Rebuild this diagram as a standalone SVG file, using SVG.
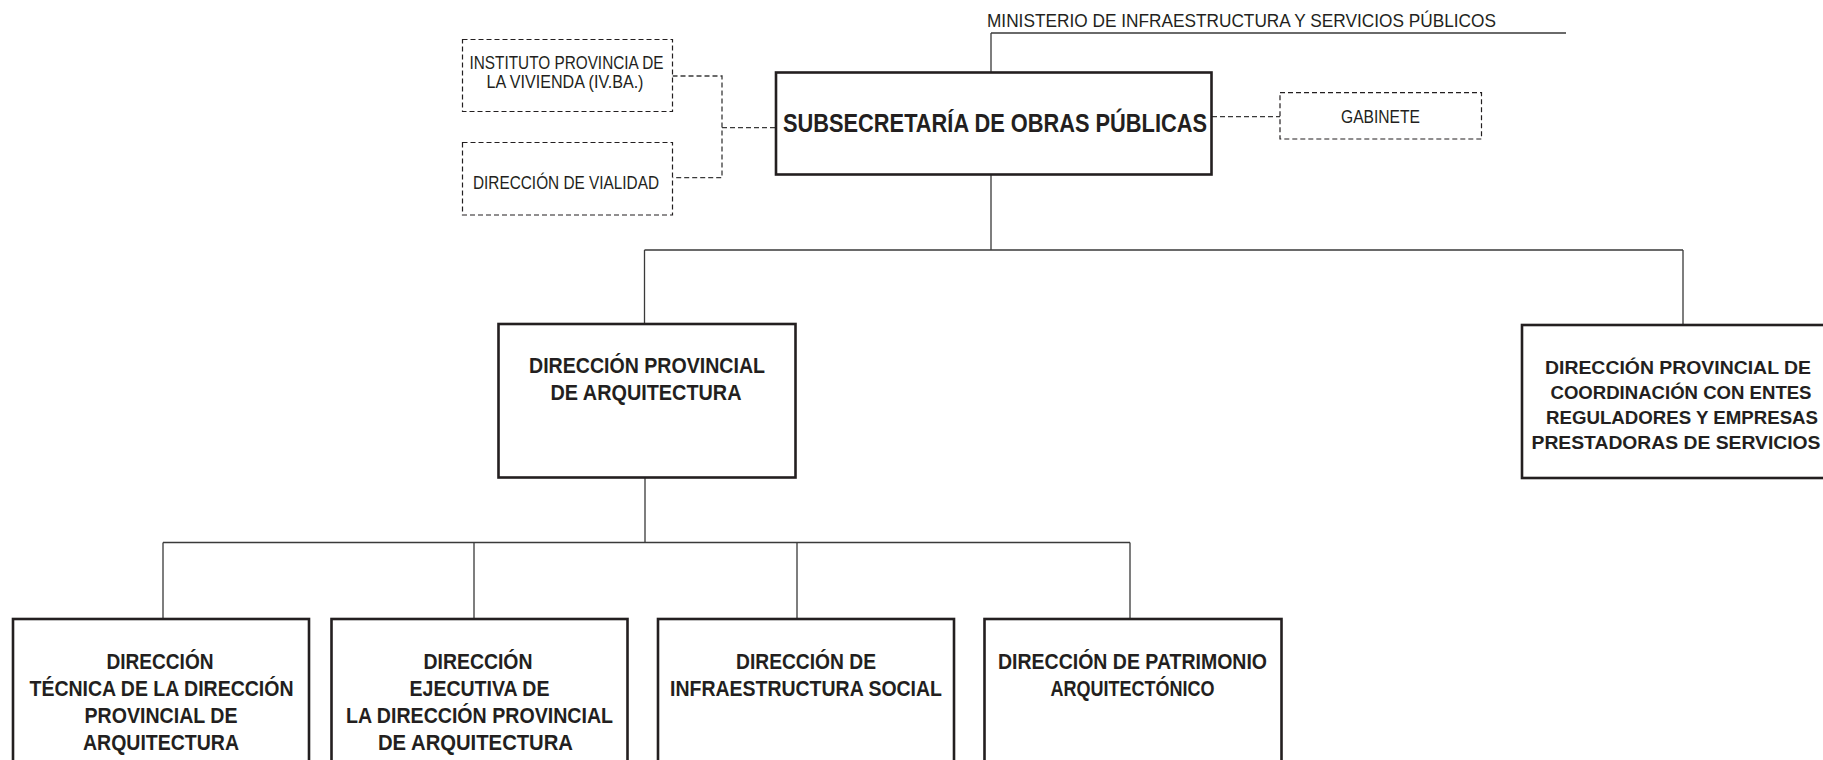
<svg xmlns="http://www.w3.org/2000/svg" width="1823" height="760" viewBox="0 0 1823 760">
<style>
  .box { fill: #ffffff; stroke: #231f20; stroke-width: 2.6; }
  .dbox { fill: #ffffff; stroke: #231f20; stroke-width: 1.2; stroke-dasharray: 5 3; }
  .ln { fill: none; stroke: #3a3a3a; stroke-width: 1.3; }
  .dln { fill: none; stroke: #3a3a3a; stroke-width: 1.3; stroke-dasharray: 5 3; }
  text { font-family: "Liberation Sans", Arial, sans-serif; fill: #231f20; }
  .b { font-weight: bold; text-anchor: middle; }
  .r { font-weight: normal; }
  .c { text-anchor: middle; }
</style>
<rect x="0" y="0" width="1823" height="760" fill="#ffffff"/>

<g id="connectors">
  <path class="ln" d="M991 33 H1566 M991 33 V72"/>
  <path class="ln" d="M991 175 V250 M644.5 250 H1683 M644.5 250 V324 M1683 250 V325"/>
  <path class="ln" d="M645 477 V542.5 M163 542.5 H1130 M163 542.5 V619 M474 542.5 V619 M797 542.5 V619 M1130 542.5 V619"/>
  <path class="dln" d="M672.5 76 H722 V177.7 H672.5 M722 127.7 H775"/>
  <path class="dln" d="M1212 116.7 H1280"/>
</g>

<g id="ministerio">
  <text class="r" x="987" y="27" font-size="18" textLength="509" lengthAdjust="spacingAndGlyphs">MINISTERIO DE INFRAESTRUCTURA Y SERVICIOS PÚBLICOS</text>
</g>

<g id="subsecretaria">
  <rect class="box" x="776" y="72.5" width="435.5" height="102"/>
  <text class="b" x="995" y="132" font-size="25" textLength="424" lengthAdjust="spacingAndGlyphs">SUBSECRETARÍA DE OBRAS PÚBLICAS</text>
</g>

<g id="instituto">
  <rect class="dbox" x="462.5" y="39.5" width="210" height="72"/>
  <text class="r c" x="566.5" y="69" font-size="19" textLength="194" lengthAdjust="spacingAndGlyphs">INSTITUTO PROVINCIA DE</text>
  <text class="r c" x="565" y="88" font-size="19" textLength="157" lengthAdjust="spacingAndGlyphs">LA VIVIENDA (IV.BA.)</text>
</g>

<g id="vialidad">
  <rect class="dbox" x="462.5" y="142.5" width="210" height="72.5"/>
  <text class="r c" x="566" y="189" font-size="19" textLength="186" lengthAdjust="spacingAndGlyphs">DIRECCIÓN DE VIALIDAD</text>
</g>

<g id="gabinete">
  <rect class="dbox" x="1280" y="92.7" width="201.5" height="46.3"/>
  <text class="r c" x="1380.5" y="123" font-size="18" textLength="79" lengthAdjust="spacingAndGlyphs">GABINETE</text>
</g>

<g id="dpa">
  <rect class="box" x="498.5" y="324" width="297" height="153.5"/>
  <text class="b" x="647" y="373" font-size="22" textLength="236" lengthAdjust="spacingAndGlyphs">DIRECCIÓN PROVINCIAL</text>
  <text class="b" x="646" y="400" font-size="22" textLength="191" lengthAdjust="spacingAndGlyphs">DE ARQUITECTURA</text>
</g>

<g id="dpcoord">
  <rect class="box" x="1522" y="325" width="320" height="153"/>
  <text class="b" x="1678" y="373.5" font-size="19" textLength="266" lengthAdjust="spacingAndGlyphs">DIRECCIÓN PROVINCIAL DE</text>
  <text class="b" x="1681" y="398.5" font-size="19" textLength="261" lengthAdjust="spacingAndGlyphs">COORDINACIÓN CON ENTES</text>
  <text class="b" x="1682" y="423.5" font-size="19" textLength="272" lengthAdjust="spacingAndGlyphs">REGULADORES Y EMPRESAS</text>
  <text class="b" x="1676" y="448.5" font-size="19" textLength="289" lengthAdjust="spacingAndGlyphs">PRESTADORAS DE SERVICIOS</text>
</g>

<g id="tecnica">
  <rect class="box" x="13" y="619" width="296" height="200"/>
  <text class="b" x="160" y="669" font-size="22" textLength="107" lengthAdjust="spacingAndGlyphs">DIRECCIÓN</text>
  <text class="b" x="161.5" y="696" font-size="22" textLength="264" lengthAdjust="spacingAndGlyphs">TÉCNICA DE LA DIRECCIÓN</text>
  <text class="b" x="161" y="722.5" font-size="22" textLength="153" lengthAdjust="spacingAndGlyphs">PROVINCIAL DE</text>
  <text class="b" x="161" y="749.5" font-size="22" textLength="156" lengthAdjust="spacingAndGlyphs">ARQUITECTURA</text>
</g>

<g id="ejecutiva">
  <rect class="box" x="331.5" y="619" width="296" height="200"/>
  <text class="b" x="478" y="669" font-size="22" textLength="109" lengthAdjust="spacingAndGlyphs">DIRECCIÓN</text>
  <text class="b" x="479.5" y="696" font-size="22" textLength="140" lengthAdjust="spacingAndGlyphs">EJECUTIVA DE</text>
  <text class="b" x="479.5" y="722.5" font-size="22" textLength="267" lengthAdjust="spacingAndGlyphs">LA DIRECCIÓN PROVINCIAL</text>
  <text class="b" x="475.5" y="749.5" font-size="22" textLength="195" lengthAdjust="spacingAndGlyphs">DE ARQUITECTURA</text>
</g>

<g id="infraestructura">
  <rect class="box" x="658" y="619" width="296" height="200"/>
  <text class="b" x="806" y="669" font-size="22" textLength="140" lengthAdjust="spacingAndGlyphs">DIRECCIÓN DE</text>
  <text class="b" x="806" y="696" font-size="22" textLength="272" lengthAdjust="spacingAndGlyphs">INFRAESTRUCTURA SOCIAL</text>
</g>

<g id="patrimonio">
  <rect class="box" x="984.5" y="619" width="297" height="200"/>
  <text class="b" x="1132.5" y="669" font-size="22" textLength="269" lengthAdjust="spacingAndGlyphs">DIRECCIÓN DE PATRIMONIO</text>
  <text class="b" x="1132.5" y="696" font-size="22" textLength="164" lengthAdjust="spacingAndGlyphs">ARQUITECTÓNICO</text>
</g>
</svg>
